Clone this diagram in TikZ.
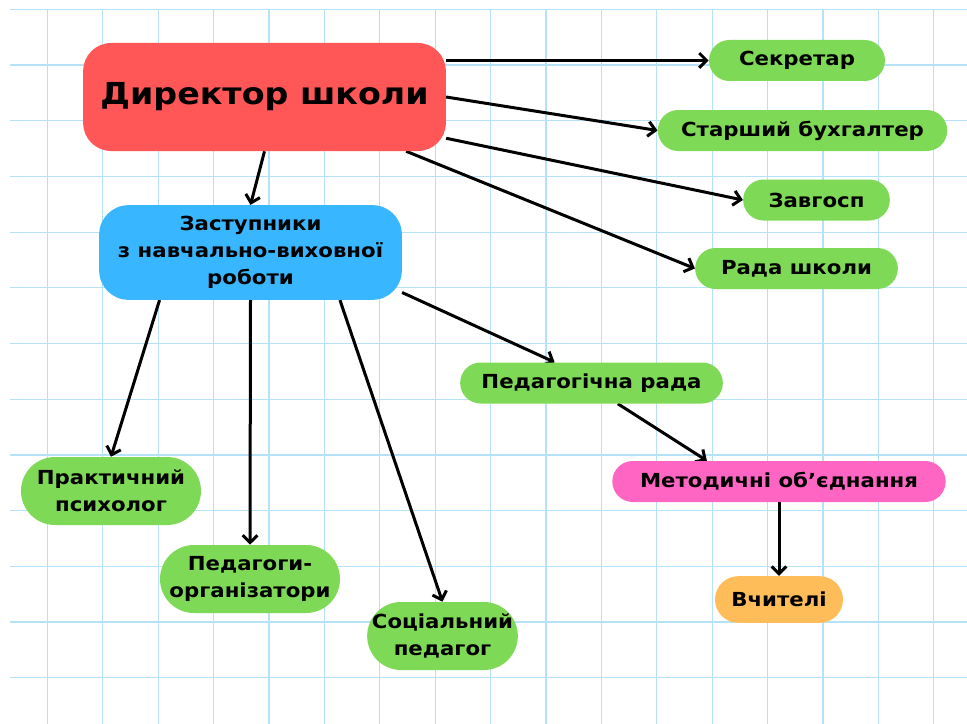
\documentclass[tikz,border=0pt]{standalone}
\usepackage{fontspec}
\setmainfont{DejaVu Sans}[FakeStretch=1.1]
\usetikzlibrary{calc,arrows.meta}

\definecolor{gridblue}{HTML}{B5E2F7}
\definecolor{boxred}{HTML}{FF5757}
\definecolor{boxblue}{HTML}{38B6FF}
\definecolor{boxgreen}{HTML}{7ED957}
\definecolor{boxpink}{HTML}{FF66C4}
\definecolor{boxorange}{HTML}{FFBD59}

\pgfdeclarelayer{grid}
\pgfdeclarelayer{edges}
\pgfsetlayers{grid,edges,main}

\tikzset{
    box/.style={align=center, inner sep=0pt, font=\bfseries\fontsize{14.5}{20}\selectfont},
    pill/.style={box, fill=boxgreen, minimum height=30.75pt, rounded corners=15.3pt},
    tall/.style={box, fill=boxgreen, minimum height=51pt, rounded corners=25.5pt},
    link/.style={line width=2.25pt, -{Straight Barb[length=5.5pt,width=11pt,line width=2.25pt]}}
}

\begin{document}
\begin{tikzpicture}[x=0.75pt, y=-0.75pt]
\useasboundingbox (0,0) rectangle (967,724);
\begin{pgfonlayer}{grid}
    \fill[white] (0,0) rectangle (967,724);
    \foreach \k in {0,...,12} {
        \draw[gridblue, line width=0.9pt] (10,9.3+55.7*\k) -- (967,9.3+55.7*\k);
    }
    \foreach \k in {0,...,16} {
        \draw[gridblue, line width=0.9pt] (47.3+55.4*\k,9.3) -- (47.3+55.4*\k,724);
    }
\end{pgfonlayer}

\node[box, fill=boxred, minimum width=272pt, minimum height=81pt, rounded corners=21pt,
      font=\bfseries\fontsize{22.7}{30}\selectfont] (dir) at (264.5,97) {Директор школи};
\node[box, fill=boxblue, minimum width=227pt, minimum height=71pt, rounded corners=22pt] (zast) at (250.5,252.5)
    {Заступники\\з навчально-виховної\\роботи};

\node[pill, minimum width=132pt] (sec) at (797,60.5) {Секретар};
\node[pill, minimum width=217pt] (buh) at (802.5,130.5) {Старший бухгалтер};
\node[pill, minimum width=110pt] (zav) at (816.5,200) {Завгосп};
\node[pill, minimum width=152pt] (rada) at (796.5,268.5) {Рада школи};

\node[pill, minimum width=197pt] (prada) at (591.5,383) {Педагогічна рада};
\node[pill, minimum width=250pt, fill=boxpink] (met) at (779,481.5) {Методичні об’єднання};
\node[pill, minimum width=96pt, minimum height=35pt, rounded corners=17.5pt, fill=boxorange] (vch) at (779,599.5) {Вчителі};

\node[tall, minimum width=135pt] (prak) at (111,491) {Практичний\\психолог};
\node[tall, minimum width=135pt] (porg) at (250,579) {Педагоги-\\організатори};
\node[tall, minimum width=113pt] (soc) at (442.5,636) {Соціальний\\педагог};

\begin{pgfonlayer}{edges}
    \draw[link] (dir.east |- sec.west) -- (sec.west);
    \draw[link] (dir.east) -- (buh.west);
    \draw[link] ($(dir.north east)!0.88!(dir.south east)$) -- (zav.west);
    \draw[link] ($(dir.south west)!0.89!(dir.south east)$) -- (rada.west);
    \draw[link] (dir.south) -- (zast.north);
    \draw[link] ($(zast.south west)!0.2!(zast.south east)$) -- (prak.north);
    \draw[link] (zast.south) -- (porg.north);
    \draw[link] ($(zast.south west)!0.795!(zast.south east)$) -- (soc.north);
    \draw[link] ($(zast.north east)!0.92!(zast.south east)$) -- ($(prada.north west)!0.36!(prada.north east)$);
    \draw[link] ($(prada.south west)!0.6!(prada.south east)$) -- ($(met.north west)!0.284!(met.north east)$);
    \draw[link] (met.south) -- (vch.north);
\end{pgfonlayer}
\end{tikzpicture}
\end{document}
